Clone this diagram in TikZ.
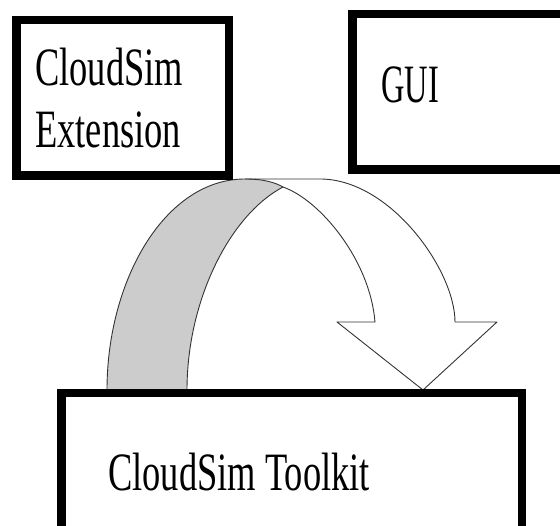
\documentclass[tikz,border=0pt]{standalone}
\usepackage{graphicx}
\usepackage{fontspec}
\newfontfamily\boxfont[FakeStretch=0.675]{Liberation Serif}
\usepackage{tikz}
\usetikzlibrary{calc}
\tikzset{
  panel/.style={draw, line width=8.5pt, fill=white, inner sep=0pt},
  lbl/.style={font=\boxfont\fontsize{54}{62}\selectfont, inner sep=0pt, align=left},
  bentline/.style={draw=black!80, line width=0.9pt, line join=round},
}
\newcommand{\panelbox}[4]{\node[panel, minimum width=#3, minimum height=#4] (#1) at (#2) {};}

\begin{document}
\begin{tikzpicture}[x=1pt,y=-1pt]
\clip (0,0) rectangle (560,526);
% back of the bent arrow
\fill[black!20] (107,390) .. controls (107,280) and (165,179) .. (245,179)
  .. controls (265,179) and (276,183) .. (283,187)
  .. controls (230,215) and (187,300) .. (187,390) -- cycle;
% outline of the bent arrow
\draw[bentline] (107,390) .. controls (107,280) and (165,179) .. (245,179)
  -- (320,179) .. controls (390,179) and (455,270) .. (455,322)
  -- (497,322) -- (423,390) -- (337,322) -- (375,322)
  .. controls (370,260) and (320,200) .. (283,187)
  .. controls (230,215) and (187,300) .. (187,390);
\draw[bentline] (245,179) .. controls (265,179) and (276,183) .. (283,187);
% boxes
\panelbox{ext}{122.5,98}{212.5pt}{155.5pt}
\panelbox{gui}{474,92}{243.5pt}{155.5pt}
\panelbox{toolkit}{291.5,464.5}{460.5pt}{142.5pt}
% box labels
\node[lbl, anchor=base west] (extlabel) at (35,148) {CloudSim\\Extension};
\node[lbl, anchor=base west] (guilabel) at (381,103) {\scalebox{0.89}[1]{GUI}};
\node[lbl, anchor=base west] (toolkitlabel) at (108,491) {CloudSim Toolkit};
\end{tikzpicture}
\end{document}
